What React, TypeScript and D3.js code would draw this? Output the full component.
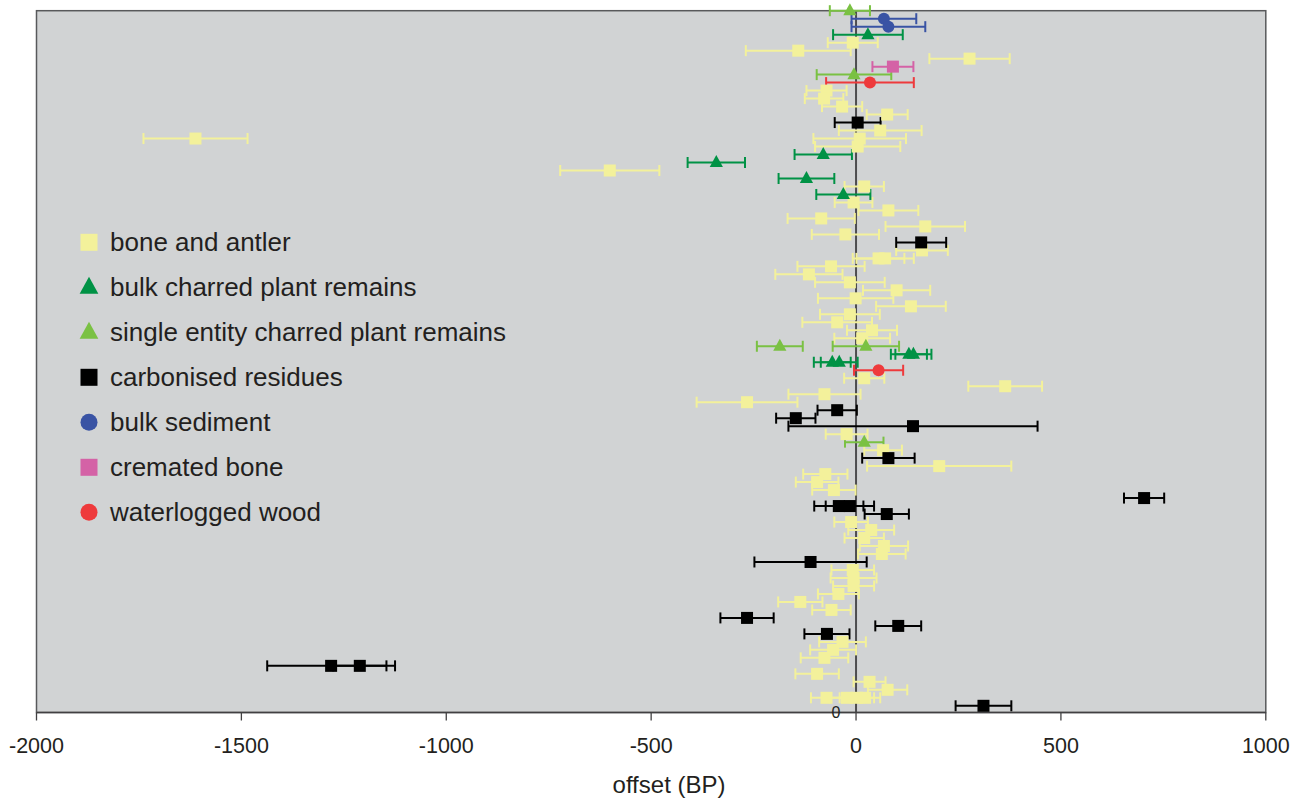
import React from "react";
import * as d3 from "d3";

type Cat = "bone" | "bulk" | "single" | "residue" | "sediment" | "cremated" | "wood";

// [row, offset, error]
const bone: [number, number, number][] = [
  [4, -8, 61], [5, -141, 128], [6, 277, 98], [10, -72, 49], [11, -78, 47], [12, -34, 49],
  [13, 76, 50], [15, 59, 101], [16, 9, 113], [16, -1612, 127], [17, 4, 104], [20, -601, 121],
  [22, 20, 48], [24, -6, 46], [25, 79, 73], [26, -85, 82], [27, 169, 97], [28, -26, 82],
  [30, 161, 63], [31, 55, 63], [31, 71, 70], [32, -61, 82], [33, -115, 82], [34, -15, 85],
  [35, 99, 82], [36, -1, 92], [37, 134, 85], [38, -15, 73], [39, -46, 85], [40, 39, 61],
  [41, 15, 68], [46, 20, 49], [47, 364, 90], [48, -77, 88], [49, -266, 123], [53, -23, 51],
  [55, 66, 46], [57, 203, 176], [58, -75, 54], [59, -95, 52], [60, -54, 53], [64, -12, 41],
  [65, 37, 56], [66, 20, 48], [67, 68, 59], [68, 63, 58], [70, -8, 52], [71, -6, 56],
  [72, -6, 50], [73, -43, 50], [74, -136, 54], [75, -60, 47], [79, -33, 57], [80, -56, 56],
  [81, -77, 58], [83, -95, 53], [84, 33, 39], [85, 77, 48], [86, -72, 38], [86, -22, 42],
  [86, 2, 42], [86, 22, 37],
];
const bulkPlant: [number, number, number][] = [
  [3, 29, 85], [18, -80, 70], [19, -341, 70], [21, -121, 68], [23, -31, 66],
  [43, 129, 44], [43, 140, 44], [44, -58, 45], [44, -41, 45],
];
const singlePlant: [number, number, number][] = [
  [0, -15, 49], [8, -5, 91], [42, -186, 56], [42, 24, 81], [54, 20, 47],
];
const residue: [number, number, number][] = [
  [14, 4, 56], [29, 159, 61], [50, -46, 48], [51, -147, 48], [52, 139, 304], [56, 79, 64],
  [61, 703, 49], [62, -42, 60], [62, -15, 59], [63, 75, 54], [69, -111, 137], [76, -266, 65],
  [77, 103, 56], [78, -71, 55], [82, -1281, 156], [82, -1211, 65], [87, 311, 68],
];
const sediment: [number, number, number][] = [[1, 68, 79], [2, 79, 90]];
const cremated: [number, number, number][] = [[7, 90, 50]];
const wood: [number, number, number][] = [[9, 34, 107], [45, 55, 60]];

const xTicks = [-2000, -1500, -1000, -500, 0, 500, 1000];

const seriesList: { key: Cat; label: string; data: [number, number, number][] }[] = [
  { key: "bone", label: "bone and antler", data: bone },
  { key: "bulk", label: "bulk charred plant remains", data: bulkPlant },
  { key: "single", label: "single entity charred plant remains", data: singlePlant },
  { key: "residue", label: "carbonised residues", data: residue },
  { key: "sediment", label: "bulk sediment", data: sediment },
  { key: "cremated", label: "cremated bone", data: cremated },
  { key: "wood", label: "waterlogged wood", data: wood },
];

const colors: Record<Cat, string> = {
  bone: "#F3F19B",
  bulk: "#009245",
  single: "#7AC143",
  residue: "#000000",
  sediment: "#3953A4",
  cremated: "#D462A6",
  wood: "#EE3A3C",
};
const shapes: Record<Cat, "square" | "triangle" | "circle"> = {
  bone: "square",
  bulk: "triangle",
  single: "triangle",
  residue: "square",
  sediment: "circle",
  cremated: "square",
  wood: "circle",
};

const FONT = "'Liberation Sans', Arial, Helvetica, sans-serif";

function Marker({ shape, x, y, size, color }: { shape: string; x: number; y: number; size: number; color: string }) {
  if (shape === "square") {
    return <rect x={x - size / 2} y={y - size / 2} width={size} height={size} fill={color} />;
  }
  if (shape === "circle") {
    return <circle cx={x} cy={y} r={size / 2} fill={color} />;
  }
  const h = size * 1.0;
  const w = size * 1.1;
  return (
    <path
      d={`M${x},${y - h * 0.62} L${x + w / 2},${y + h * 0.38} L${x - w / 2},${y + h * 0.38} Z`}
      fill={color}
    />
  );
}

export default function App() {
  const width = 1303;
  const height = 798;
  const left = 36.5;
  const right = 1265.8;
  const top = 10.7;
  const bottom = 712.5;

  const x = d3.scaleLinear().domain([-2000, 1000]).range([left, right]);
  const y = d3.scaleLinear().domain([0, 87]).range([top, 705.8]);

  const capH = 11;

  return (
    <svg
      width={width}
      height={height}
      style={{ position: "absolute", left: 0, top: 0, background: "#fff" }}
      fontFamily={FONT}
    >
      <rect x={left} y={top} width={right - left} height={bottom - top} fill="#D1D3D4" stroke="#58595B" strokeWidth={1.5} />
      <line x1={x(0)} x2={x(0)} y1={top} y2={bottom} stroke="#4D4D4F" strokeWidth={2} />
      <line x1={left} x2={right} y1={bottom} y2={bottom} stroke="#414042" strokeWidth={1.5} />
      {xTicks.map((t) => (
        <g key={t}>
          <line x1={x(t)} x2={x(t)} y1={bottom} y2={bottom + 8} stroke="#414042" strokeWidth={1.3} />
          <text x={x(t)} y={753} textAnchor="middle" fontSize={21.5} fill="#231F20">
            {t}
          </text>
        </g>
      ))}
      <text x={x(0) - 20} y={718} textAnchor="middle" fontSize={16} fill="#231F20">
        0
      </text>
      <text x={669} y={793} textAnchor="middle" fontSize={24} fill="#231F20">
        offset (BP)
      </text>

      {seriesList.map((s) => (
        <g key={s.key + "-err"} stroke={colors[s.key]} strokeWidth={2} fill="none">
          {s.data.map(([r, v, e], i) => {
            const yy = y(r);
            const x0 = x(v - e);
            const x1 = x(v + e);
            return (
              <g key={i}>
                <line x1={x0} x2={x1} y1={yy} y2={yy} />
                <line x1={x0} x2={x0} y1={yy - capH / 2} y2={yy + capH / 2} />
                <line x1={x1} x2={x1} y1={yy - capH / 2} y2={yy + capH / 2} />
              </g>
            );
          })}
        </g>
      ))}
      {seriesList.map((s) => (
        <g key={s.key + "-m"}>
          {s.data.map(([r, v], i) => (
            <Marker key={i} shape={shapes[s.key]} x={x(v)} y={y(r)} size={12} color={colors[s.key]} />
          ))}
        </g>
      ))}

      {seriesList.map((s, i) => {
        const ly = 242.3 + i * 45;
        return (
          <g key={s.key + "-leg"}>
            <Marker shape={shapes[s.key]} x={89} y={ly} size={17} color={colors[s.key]} />
            <text x={110} y={ly + 9} fontSize={26} fill="#231F20">
              {s.label}
            </text>
          </g>
        );
      })}
    </svg>
  );
}
